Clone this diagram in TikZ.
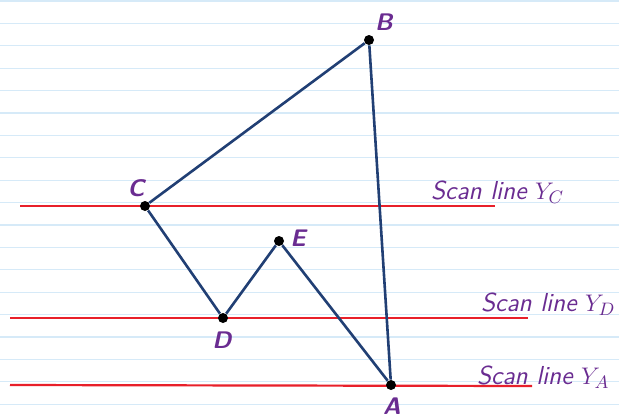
\documentclass[tikz,border=0pt]{standalone}
\usetikzlibrary{positioning}
\usepackage{xcolor}

\definecolor{ruleblue}{RGB}{214,234,248}
\definecolor{edgeblue}{RGB}{33,63,116}
\definecolor{scanred}{RGB}{232,32,42}
\definecolor{inkpurple}{RGB}{106,44,145}

\begin{document}
\begin{tikzpicture}[x=0.5pt, y=-0.5pt,
    vertex/.style={circle, fill=black, inner sep=0pt, minimum size=5pt},
    lbl/.style={text=inkpurple, font=\sffamily\bfseries\fontsize{12}{14}\selectfont\itshape},
    scantext/.style={text=inkpurple, font=\sffamily\fontsize{13}{15}\selectfont\itshape, anchor=west},
    edge/.style={edgeblue, line width=1.3pt},
    scanline/.style={scanred, line width=1.1pt},
    ruled/.style={ruleblue, line width=0.6pt}]

  % ==========================================
  % Paper background with ruled lines
  % ==========================================
  \useasboundingbox (0,0) rectangle (619,418);
  \fill[white] (0,0) rectangle (619,418);
  \foreach \k in {0,...,18}
    \draw[ruled] (0,{1+22.4*\k}) -- (619,{1+22.4*\k});

  % ==========================================
  % Scan lines
  % ==========================================
  \coordinate (yc-l) at (20,206);
  \coordinate (yc-r) at (495,206);
  \coordinate (yd-l) at (10,318);
  \coordinate (yd-r) at (528,318);
  \coordinate (ya-l) at (10,385);
  \coordinate (ya-r) at (532,386);
  \draw[scanline] (yc-l) -- (yc-r);
  \draw[scanline] (yd-l) -- (yd-r);
  \draw[scanline] (ya-l) -- (ya-r);

  \node[scantext] (tyc) at (424,192) {Scan line $Y_C$};
  \node[scantext] (tyd) at (474,304) {Scan line $Y_D$};
  \node[scantext] (tya) at (470,377) {Scan line $Y_A$};

  % ==========================================
  % Polygon A-B-C-D-E
  % ==========================================
  \node[vertex] (A) at (391,385) {};
  \node[vertex] (B) at (369,40) {};
  \node[vertex] (C) at (145,206) {};
  \node[vertex] (D) at (223,318) {};
  \node[vertex] (E) at (279,241) {};

  \draw[edge] (A) -- (B);
  \draw[edge] (B) -- (C);
  \draw[edge] (C) -- (D);
  \draw[edge] (D) -- (E);
  \draw[edge] (E) -- (A);

  % Vertex labels
  \node[lbl] (la) at (392,406) {A};
  \node[lbl] (lb) at (384,22) {B};
  \node[lbl] (lc) at (136,188) {C};
  \node[lbl] (ld) at (222,340) {D};
  \node[lbl] (le) at (298,238) {E};

\end{tikzpicture}
\end{document}
